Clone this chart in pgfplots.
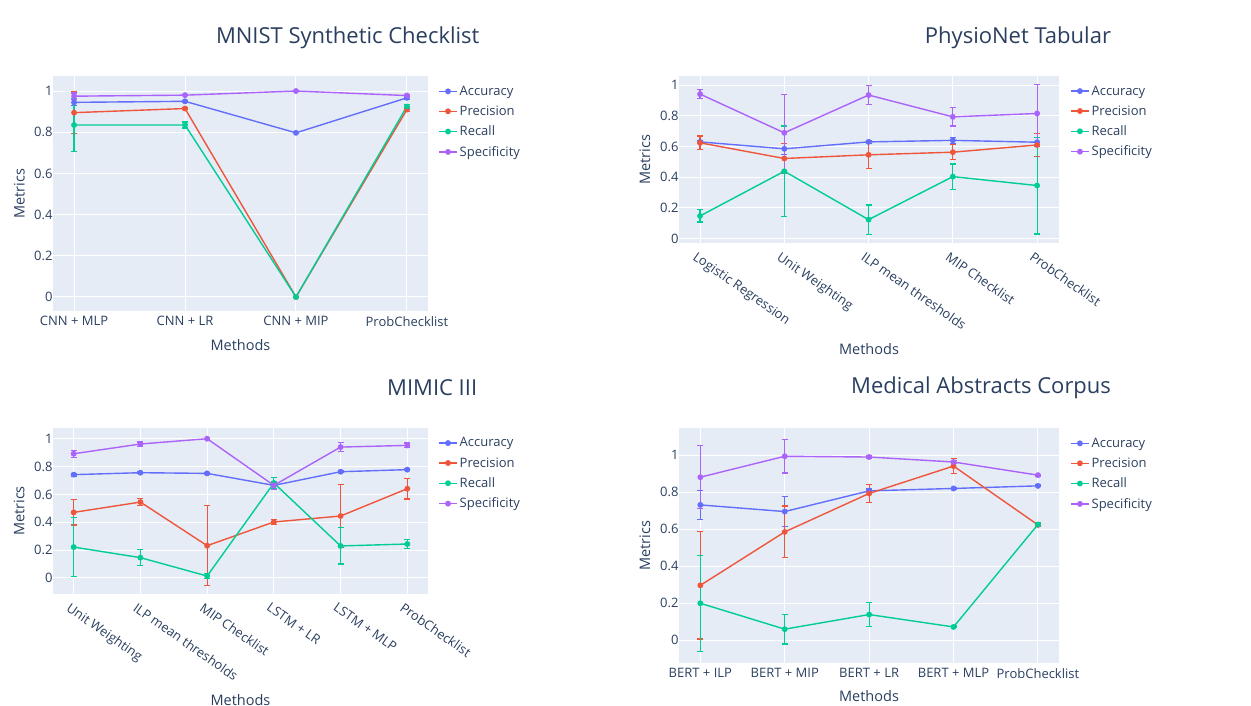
\documentclass[border=0pt]{standalone}
\usepackage{fontspec}
\setmainfont{Open Sans}
\usepackage{pgfplots}
\usepackage{pgfplotstable}
\pgfplotsset{compat=1.18}

\definecolor{plotbg}{HTML}{E5ECF6}
\definecolor{txt}{HTML}{2A3F5F}
\definecolor{cacc}{HTML}{636EFA}
\definecolor{cprec}{HTML}{EF553B}
\definecolor{crec}{HTML}{00CC96}
\definecolor{cspec}{HTML}{AB63FA}

% x, value, error for Accuracy / Precision / Recall / Specificity
\pgfplotstableread{
x acc accE prec precE rec recE spec specE
0 0.945 0.015 0.895 0.100 0.835 0.130 0.975 0.015
1 0.950 0.005 0.915 0.005 0.835 0.015 0.980 0.003
2 0.797 0.000 0.000 0.000 0.000 0.000 1.000 0.000
3 0.967 0.008 0.910 0.008 0.925 0.010 0.978 0.005
}\mnist
\pgfplotstableread{
x acc accE prec precE rec recE spec specE
0 0.630 0.010 0.624 0.045 0.148 0.040 0.941 0.028
1 0.585 0.035 0.522 0.095 0.439 0.295 0.689 0.250
2 0.630 0.008 0.546 0.088 0.124 0.095 0.935 0.064
3 0.640 0.020 0.563 0.050 0.404 0.082 0.793 0.059
4 0.628 0.030 0.610 0.077 0.346 0.315 0.815 0.190
}\physio
\pgfplotstableread{
x acc accE prec precE rec recE spec specE
0 0.742 0.010 0.471 0.090 0.222 0.210 0.892 0.025
1 0.756 0.005 0.545 0.027 0.146 0.057 0.962 0.015
2 0.751 0.005 0.232 0.287 0.014 0.017 1.000 0.003
3 0.665 0.020 0.402 0.020 0.682 0.040 0.665 0.030
4 0.763 0.008 0.445 0.225 0.230 0.130 0.940 0.033
5 0.778 0.005 0.641 0.074 0.244 0.035 0.952 0.017
}\mimic
\pgfplotstableread{
x acc accE prec precE rec recE spec specE
0 0.732 0.080 0.297 0.290 0.200 0.260 0.882 0.170
1 0.696 0.080 0.586 0.140 0.060 0.080 0.995 0.090
2 0.808 0.010 0.794 0.050 0.139 0.064 0.991 0.005
3 0.821 0.005 0.942 0.040 0.072 0.005 0.964 0.010
4 0.835 0.005 0.624 0.005 0.626 0.010 0.893 0.005
}\medabs

\pgfplotsset{
  every axis title shift=0pt,
  panel/.style={
    scale only axis,
    anchor=south west,
    axis background/.style={fill=plotbg},
    axis line style={draw=none},
    major tick length=0pt,
    grid=major,
    major grid style={white, line width=1pt},
    ytick={0,0.2,0.4,0.6,0.8,1},
    xtick={0,...,5},
    /pgf/number format/assume math mode=true,
    tick label style={font=\fontsize{13}{15}\selectfont, text=txt},
    yticklabel style={xshift=3pt},
    xticklabel style={yshift=-2pt},
    xlabel={Methods},
    ylabel={Metrics},
    xlabel style={font=\fontsize{14.5}{17}\selectfont, text=txt},
    ylabel style={font=\fontsize{14.5}{17}\selectfont, text=txt,
      at={(axis description cs:-0.09,0.5)}, anchor=center},
    title style={font=\fontsize{22}{26}\selectfont, text=txt, anchor=center},
    legend cell align=left,
    legend style={draw=none, fill=none, anchor=north west,
      font=\fontsize{13}{15}\selectfont, text=txt, row sep=5pt,
      inner sep=0pt,
      /tikz/every even column/.append style={column sep=2pt}},
    legend image code/.code={%
      \draw[mark repeat=2,mark phase=2] plot coordinates {(0pt,0pt)(9pt,0pt)(18pt,0pt)};},
    every axis plot/.append style={line width=1.4pt, mark=*, mark size=2.2pt},
    error bars/y dir=both,
    error bars/y explicit,
    error bars/error bar style={line width=1.2pt},
    error bars/error mark options={rotate=90, mark size=3pt, line width=1.2pt},
  },
  slanted/.style={xticklabel style={rotate=-35, anchor=north west, xshift=-2pt, yshift=-3pt}},
}

\newcommand{\series}[1]{%
  \addplot[cacc, mark options={fill=cacc}] table[x=x, y=acc, y error=accE] {#1};
  \addplot[cprec, mark options={fill=cprec}] table[x=x, y=prec, y error=precE] {#1};
  \addplot[crec, mark options={fill=crec}] table[x=x, y=rec, y error=recE] {#1};
  \addplot[cspec, mark options={fill=cspec}] table[x=x, y=spec, y error=specE] {#1};
  \legend{Accuracy, Precision, Recall, Specificity}
}

\begin{document}
\begin{tikzpicture}
\useasboundingbox (0,0) rectangle (1251pt,706pt);

% MNIST
\begin{axis}[panel,
  at={(53pt,395pt)}, width=375pt, height=235pt,
  xmin=-0.19, xmax=3.19, ymin=-0.068, ymax=1.073,
  xticklabels={CNN + MLP, CNN + LR, CNN + MIP, ProbChecklist},
  title={MNIST Synthetic Checklist},
  title style={at={(axis description cs:0.786,1.162)}},
  xlabel style={at={(axis description cs:0.5,-0.145)}, anchor=center},
  legend style={at={(axis description cs:1.027,0.967)}},
]
\series{\mnist}
\end{axis}

% PhysioNet
\begin{axis}[panel, slanted,
  at={(679pt,463pt)}, width=380pt, height=167pt,
  xmin=-0.25, xmax=4.26, ymin=-0.028, ymax=1.059,
  xticklabels={Logistic Regression, Unit Weighting, ILP mean thresholds, MIP Checklist, ProbChecklist},
  title={PhysioNet Tabular},
  title style={at={(axis description cs:0.892,1.228)}},
  xlabel style={at={(axis description cs:0.5,-0.635)}, anchor=center},
  legend style={at={(axis description cs:1.029,0.955)}},
]
\series{\physio}
\end{axis}

% MIMIC III
\begin{axis}[panel, slanted,
  at={(53pt,112pt)}, width=375pt, height=166pt,
  xmin=-0.31, xmax=5.31, ymin=-0.115, ymax=1.077,
  xticklabels={Unit Weighting, ILP mean thresholds, MIP Checklist, LSTM + LR, LSTM + MLP, ProbChecklist},
  title={MIMIC III},
  title style={at={(axis description cs:1.011,1.241)}},
  xlabel style={at={(axis description cs:0.5,-0.64)}, anchor=center},
  legend style={at={(axis description cs:1.027,0.955)}},
]
\series{\mimic}
\end{axis}

% Medical Abstracts Corpus
\begin{axis}[panel,
  at={(679pt,43pt)}, width=380pt, height=235pt,
  xmin=-0.253, xmax=4.25, ymin=-0.123, ymax=1.148,
  xticklabels={BERT + ILP, BERT + MIP, BERT + LR, BERT + MLP, ProbChecklist},
  title={Medical Abstracts Corpus},
  title style={at={(axis description cs:0.795,1.17)}},
  xlabel style={at={(axis description cs:0.5,-0.14)}, anchor=center},
  legend style={at={(axis description cs:1.029,0.967)}},
]
\series{\medabs}
\end{axis}
\end{tikzpicture}
\end{document}
